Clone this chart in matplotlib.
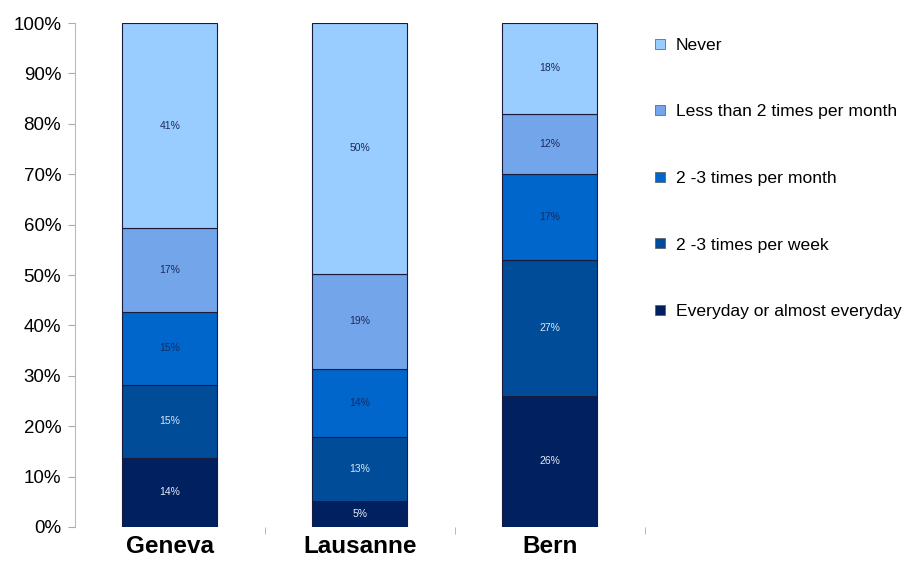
import matplotlib.pyplot as plt
import numpy as np
from matplotlib.lines import Line2D

plt.rcParams['font.family'] = ['Liberation Sans', 'DejaVu Sans']

cities = ['Geneva', 'Lausanne', 'Bern']
series = ['Everyday or almost everyday', '2 -3 times per week', '2 -3 times per month',
          'Less than 2 times per month', 'Never']
everyday = [13.7, 5.2, 26.0]
per_week = [14.5, 12.6, 27.0]
per_month = [14.5, 13.5, 17.0]
less_2 = [16.6, 19.0, 12.0]
never = [40.7, 49.7, 18.0]
labels = [['14%', '5%', '26%'], ['15%', '13%', '27%'], ['15%', '14%', '17%'],
          ['17%', '19%', '12%'], ['41%', '50%', '18%']]

colors = ['#002060', '#004c99', '#0066cc', '#73a5ea', '#99ccff']
text_colors = ['#e8eef8', '#d8e8f8', '#1a2a5a', '#1a2a5a', '#1a2a5a']

fig = plt.figure(figsize=(9.04, 5.63), dpi=100)
ax = fig.add_axes([0.083, 0.064, 0.630, 0.895])

x = np.arange(len(cities))
bottom = np.zeros(len(cities))
for vals, col, tcol, labs, name in zip([everyday, per_week, per_month, less_2, never],
                                       colors, text_colors, labels, series):
    vals = np.array(vals)
    ax.bar(x, vals, 0.5, bottom=bottom, color=col, edgecolor='#1a1a3a', linewidth=0.8, label=name)
    for xi, b, v, lab in zip(x, bottom, vals, labs):
        ax.text(xi, b + v / 2, lab, ha='center', va='center', fontsize=7.5, color=tcol)
    bottom += vals

ax.set_xlim(-0.5, 2.5)
ax.set_ylim(0, 100)
ax.set_yticks(np.arange(0, 101, 10))
ax.set_yticklabels([f'{v}%' for v in range(0, 101, 10)], fontsize=13.5)
ax.set_xticks(x)
ax.set_xticklabels(cities, fontsize=17.5, fontweight='bold')
ax.set_xticks([0.5, 1.5, 2.5], minor=True)
ax.tick_params(axis='x', which='major', length=0, pad=6)
ax.tick_params(axis='x', which='minor', length=5, color='#aaaaaa', direction='out')
ax.tick_params(axis='y', length=5, color='#aaaaaa', pad=5)

for s in ['top', 'right', 'bottom']:
    ax.spines[s].set_visible(False)
ax.spines['left'].set_color('#bbbbbb')

handles = [Line2D([], [], marker='s', linestyle='none', markersize=7, markerfacecolor=c,
                  markeredgecolor='#555555', markeredgewidth=0.5) for c in colors]
leg = fig.legend(handles[::-1], series[::-1], loc='upper left', bbox_to_anchor=(0.704, 0.961),
                 frameon=False, fontsize=12.6, labelspacing=2.93, handletextpad=0.45,
                 handlelength=0.9)

fig.savefig('out.png', dpi=100)
